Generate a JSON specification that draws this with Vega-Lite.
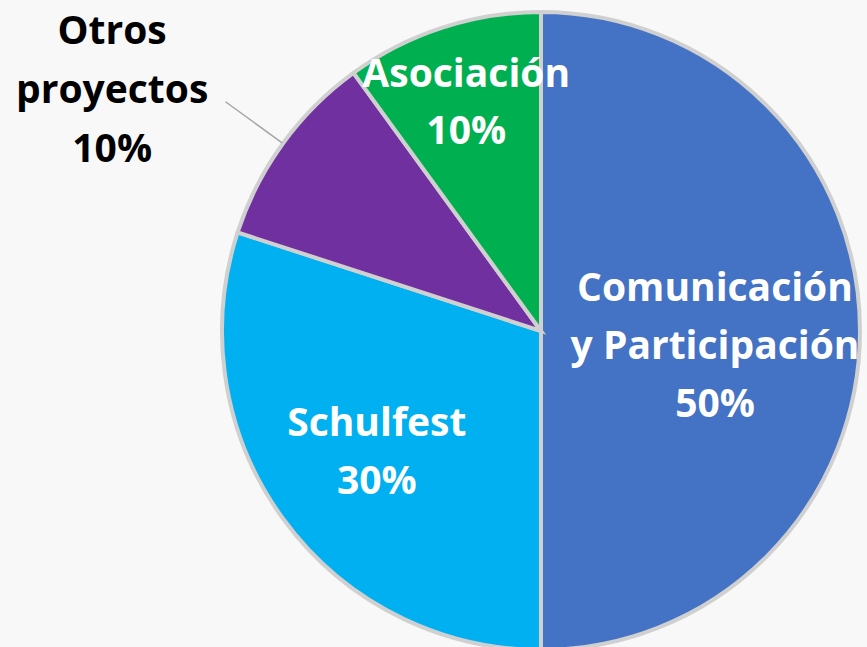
{
  "$schema": "https://vega.github.io/schema/vega-lite/v6.json",
  "width": 638,
  "height": 638,
  "autosize": {"type": "none"},
  "padding": {"left": 222, "top": 12, "right": 7, "bottom": 0},
  "background": "#f8f8f8",
  "view": {"stroke": null},
  "data": {
    "values": [
      {"categoria": "Comunicación y Participación", "valor": 50, "orden": 1, "etiqueta": "Comunicación\ny Participación\n50%"},
      {"categoria": "Schulfest", "valor": 30, "orden": 2, "etiqueta": "Schulfest\n30%"},
      {"categoria": "Otros proyectos", "valor": 10, "orden": 3, "etiqueta": "Otros\nproyectos\n10%"},
      {"categoria": "Asociación", "valor": 10, "orden": 4, "etiqueta": "Asociación\n10%"}
    ]
  },
  "encoding": {
    "theta": {"field": "valor", "type": "quantitative", "stack": true},
    "order": {"field": "orden", "type": "quantitative", "sort": "ascending"}
  },
  "layer": [
    {
      "mark": {"type": "arc", "outerRadius": 319, "stroke": "#d0d0d0", "strokeWidth": 4},
      "encoding": {
        "color": {
          "field": "categoria",
          "type": "nominal",
          "scale": {
            "domain": ["Comunicación y Participación", "Schulfest", "Otros proyectos", "Asociación"],
            "range": ["#4472C4", "#00B0F0", "#7030A0", "#00B050"]
          },
          "legend": null
        }
      }
    },
    {
      "mark": {"type": "arc", "innerRadius": 320, "outerRadius": 390, "padAngle": 1.2, "fillOpacity": 0, "stroke": "#a6a6a6", "strokeWidth": 1.5},
      "encoding": {
        "detail": {"field": "categoria", "type": "nominal"},
        "strokeOpacity": {"condition": {"test": "datum.categoria === 'Otros proyectos'", "value": 1}, "value": 0}
      }
    },
    {
      "mark": {"type": "text", "radius": 174, "dy": -42, "fill": "white", "font": "Open Sans", "fontWeight": "bold", "fontSize": 39, "lineHeight": 58, "lineBreak": "\n", "align": "center", "baseline": "middle"},
      "encoding": {
        "detail": {"field": "categoria", "type": "nominal"},
        "text": {"condition": {"test": "datum.categoria === 'Comunicación y Participación'", "field": "etiqueta"}, "value": ""}
      }
    },
    {
      "mark": {"type": "text", "radius": 203, "dy": -26, "fill": "white", "font": "Open Sans", "fontWeight": "bold", "fontSize": 39, "lineHeight": 58, "lineBreak": "\n", "align": "center", "baseline": "middle"},
      "encoding": {
        "detail": {"field": "categoria", "type": "nominal"},
        "text": {"condition": {"test": "datum.categoria === 'Schulfest'", "field": "etiqueta"}, "value": ""}
      }
    },
    {
      "mark": {"type": "text", "radius": 242, "dy": -26, "fill": "white", "font": "Open Sans", "fontWeight": "bold", "fontSize": 39, "lineHeight": 57, "lineBreak": "\n", "align": "center", "baseline": "middle"},
      "encoding": {
        "detail": {"field": "categoria", "type": "nominal"},
        "text": {"condition": {"test": "datum.categoria === 'Asociación'", "field": "etiqueta"}, "value": ""}
      }
    },
    {
      "mark": {"type": "text", "radius": 493, "dx": -30, "dy": -9, "fill": "black", "font": "Open Sans", "fontWeight": "bold", "fontSize": 39, "lineHeight": 59, "lineBreak": "\n", "align": "center", "baseline": "middle"},
      "encoding": {
        "detail": {"field": "categoria", "type": "nominal"},
        "text": {"condition": {"test": "datum.categoria === 'Otros proyectos'", "field": "etiqueta"}, "value": ""}
      }
    }
  ]
}
